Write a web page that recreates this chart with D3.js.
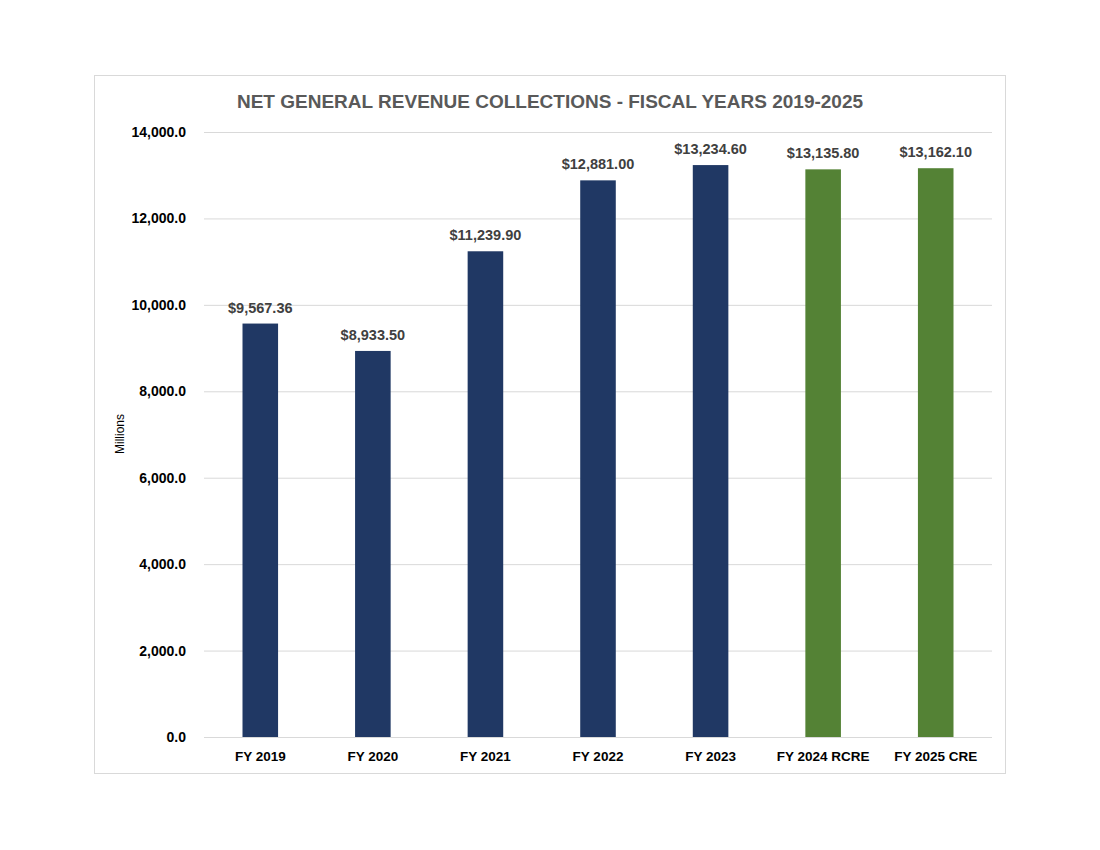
<!DOCTYPE html>
<html>
<head>
<meta charset="utf-8">
<script src="https://cdn.jsdelivr.net/npm/d3@7"></script>
<style>
  body { margin: 0; background: #fff; font-family: "Liberation Sans", Arial, sans-serif; }
</style>
</head>
<body>
<div class="chartDiv"></div>
<script>
// data
var categories = ["FY 2019", "FY 2020", "FY 2021", "FY 2022", "FY 2023", "FY 2024 RCRE", "FY 2025 CRE"];
var values     = [9567.36, 8933.50, 11239.90, 12881.00, 13234.60, 13135.80, 13162.10];
var labels     = ["$9,567.36", "$8,933.50", "$11,239.90", "$12,881.00", "$13,234.60", "$13,135.80", "$13,162.10"];
var estimate   = [false, false, false, false, false, true, true];
var yTicks     = [0, 2000, 4000, 6000, 8000, 10000, 12000, 14000];

(function(){
  var width  = 1100,
      height = 850,
      plot   = {left: 204, right: 992, top: 132, bottom: 737};

  var svg = d3.select(".chartDiv")
              .append("svg")
              .attr("width", width)
              .attr("height", height);

  // chart border
  svg.append("rect")
     .attr("x", 94.5).attr("y", 75.5)
     .attr("width", 911).attr("height", 698)
     .attr("fill", "#fff").attr("stroke", "#d9d9d9").attr("stroke-width", 1);

  var x = d3.scaleBand()
            .domain(categories)
            .range([plot.left, plot.right])
            .paddingInner(0.684)
            .paddingOuter(0.342);

  var y = d3.scaleLinear()
            .domain([0, 14000])
            .range([plot.bottom, plot.top]);

  // gridlines + y labels
  var yAxis = d3.axisLeft(y)
                .tickValues(yTicks)
                .tickSize(-(plot.right - plot.left))
                .tickPadding(18)
                .tickFormat(d3.format(",.1f"));
  var gy = svg.append("g")
              .attr("transform", "translate(" + plot.left + ",0)")
              .call(yAxis);
  gy.select(".domain").remove();
  gy.selectAll(".tick line").attr("stroke", "#d9d9d9").attr("stroke-width", 1);
  gy.selectAll(".tick text")
    .attr("fill", "#000")
    .style("font-size", "14px")
    .style("font-weight", "bold")
    .style("font-family", "'Liberation Sans', Arial, sans-serif");

  // x labels
  var xAxis = d3.axisBottom(x).tickSize(0).tickPadding(14);
  var gx = svg.append("g")
              .attr("transform", "translate(0," + plot.bottom + ")")
              .call(xAxis);
  gx.select(".domain").remove();
  gx.selectAll(".tick text")
    .attr("fill", "#000")
    .style("font-size", "13.5px")
    .style("font-weight", "bold")
    .style("font-family", "'Liberation Sans', Arial, sans-serif");

  // bars
  svg.selectAll("rect.bar")
     .data(values)
     .enter().append("rect")
     .attr("class", "bar")
     .attr("x", function(d, i){ return x(categories[i]); })
     .attr("y", function(d){ return y(d); })
     .attr("width", x.bandwidth())
     .attr("height", function(d){ return plot.bottom - y(d); })
     .attr("fill", function(d, i){ return estimate[i] ? "#548235" : "#203864"; });

  // data labels
  svg.selectAll("text.val")
     .data(values)
     .enter().append("text")
     .attr("class", "val")
     .attr("x", function(d, i){ return x(categories[i]) + x.bandwidth() / 2; })
     .attr("y", function(d){ return y(d) - 11; })
     .attr("text-anchor", "middle")
     .attr("fill", "#404040")
     .style("font-size", "14.5px")
     .style("font-weight", "bold")
     .text(function(d, i){ return labels[i]; });

  // title
  svg.append("text")
     .attr("x", 550).attr("y", 108)
     .attr("text-anchor", "middle")
     .attr("fill", "#595959")
     .style("font-size", "19px")
     .style("font-weight", "bold")
     .text("NET GENERAL REVENUE COLLECTIONS - FISCAL YEARS 2019-2025");

  // y axis title
  svg.append("text")
     .attr("transform", "translate(124,434) rotate(-90)")
     .attr("text-anchor", "middle")
     .attr("fill", "#000")
     .style("font-size", "12px")
     .text("Millions");
})()
</script>
</body>
</html>
